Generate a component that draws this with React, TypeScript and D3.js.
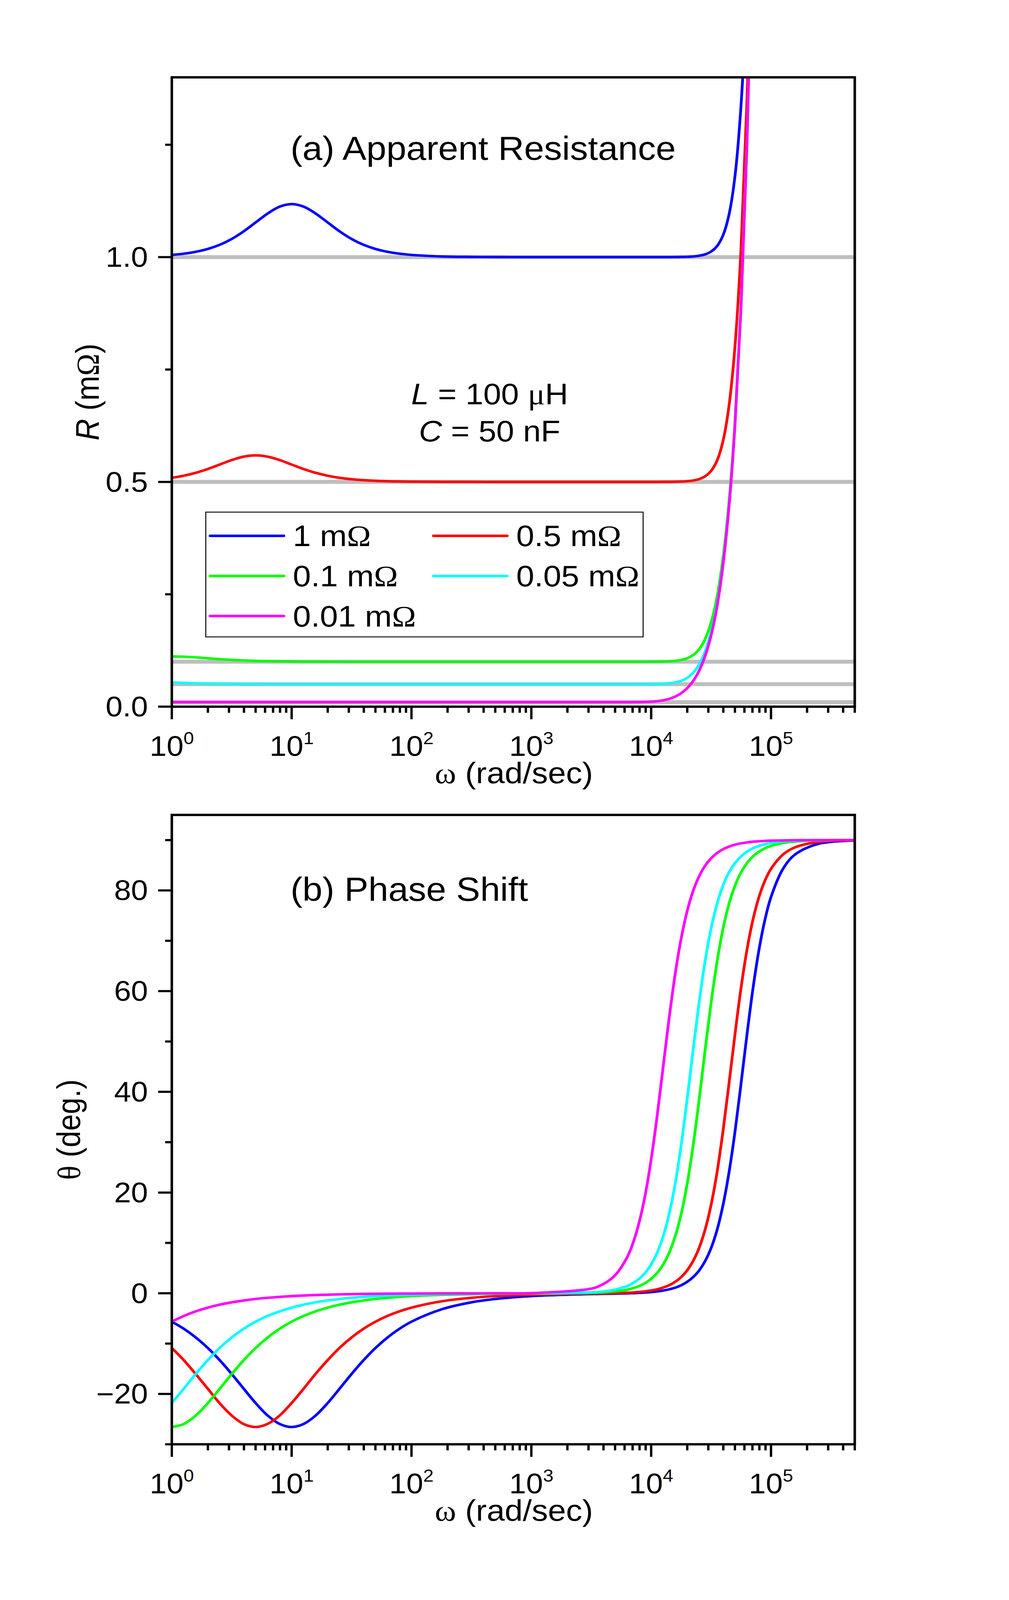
import React, { useEffect } from "react";
import * as d3 from "d3";

// ---------- data ----------
const omega = [1, 1.259, 1.585, 1.995, 2.512, 3.162, 3.981, 5.012, 6.31, 7.943, 10, 12.59, 15.85, 19.95, 25.12, 31.62, 39.81, 50.12, 63.1, 79.43, 100, 177.8, 316.2, 562.3, 1000, 3162, 3981, 5012, 6310, 7079, 7943, 8913, 10000, 11220, 12589, 14125, 15849, 17783, 19953, 22387, 25119, 28184, 31623, 35481, 39811, 44668, 50119, 56234, 63096, 70795, 79433, 89125, 100000, 125893, 158489, 251189, 500000];

// apparent resistance R (mOhm)
const rBlue = [1.0049, 1.0077, 1.0119, 1.0182, 1.0275, 1.0405, 1.0574, 1.0773, 1.0971, 1.1123, 1.118, 1.1123, 1.0971, 1.0773, 1.0574, 1.0405, 1.0275, 1.0182, 1.0119, 1.0077, 1.0049, 1.0016, 1.0005, 1.0002, 1.0, 1.0, 1.0, 1.0, 1.0, 1.0, 1.0, 1.0, 1.0, 1.0, 1.0, 1.0001, 1.0002, 1.0004, 1.0008, 1.0016, 1.0031, 1.0062, 1.0124, 1.0245, 1.0487, 1.095, 1.1814, 1.338, 1.6055, 2.036, 2.698, 3.68, 5.1, 10.03, 19.9, 79.2, 629];
const rRed = [0.5092, 0.5138, 0.5203, 0.5287, 0.5387, 0.5486, 0.5562, 0.559, 0.5561, 0.5486, 0.5385, 0.5287, 0.5202, 0.5138, 0.5091, 0.506, 0.5038, 0.5025, 0.5015, 0.501, 0.5006, 0.5002, 0.5001, 0.5, 0.5, 0.5, 0.5, 0.5, 0.5, 0.5, 0.5, 0.5, 0.5, 0.5, 0.5001, 0.5002, 0.5004, 0.5008, 0.5016, 0.5031, 0.5062, 0.5124, 0.5244, 0.5475, 0.5915, 0.67, 0.8035, 1.02, 1.352, 1.843, 2.555, 3.575, 5.02, 9.99, 19.9, 79.2, 629];
const rGreen = [0.1118, 0.1112, 0.1097, 0.1077, 0.1057, 0.1041, 0.1028, 0.1018, 0.1012, 0.1008, 0.1005, 0.1003, 0.1002, 0.1001, 0.1001, 0.1, 0.1, 0.1, 0.1, 0.1, 0.1, 0.1, 0.1, 0.1, 0.1, 0.1, 0.1, 0.1, 0.1, 0.1, 0.1, 0.1, 0.1001, 0.1002, 0.1005, 0.101, 0.102, 0.1039, 0.1076, 0.1147, 0.1276, 0.1501, 0.187, 0.2444, 0.3315, 0.4571, 0.6369, 0.8946, 1.26, 1.777, 2.508, 3.54, 5.0, 9.98, 19.9, 79.2, 629];
const rCyan = [0.05385, 0.05287, 0.05202, 0.05138, 0.05091, 0.0506, 0.05038, 0.05025, 0.05015, 0.0501, 0.05006, 0.05004, 0.05002, 0.05002, 0.05, 0.05, 0.05, 0.05, 0.05, 0.05, 0.05, 0.05, 0.05, 0.05, 0.05, 0.05, 0.05, 0.05, 0.05002, 0.05003, 0.05006, 0.05013, 0.05025, 0.0505, 0.05099, 0.05195, 0.05381, 0.05736, 0.06384, 0.07515, 0.09366, 0.1227, 0.1657, 0.2285, 0.3199, 0.4488, 0.631, 0.8903, 1.257, 1.775, 2.506, 3.54, 5.0, 9.98, 19.9, 79.2, 629];
const rMagenta = [0.01005, 0.01003, 0.01002, 0.01001, 0.01001, 0.01, 0.01, 0.01, 0.01, 0.01, 0.01, 0.01, 0.01, 0.01, 0.01, 0.01, 0.01, 0.01, 0.01, 0.01, 0.01, 0.01, 0.01, 0.01, 0.01, 0.01, 0.01, 0.01002, 0.01008, 0.01016, 0.01031, 0.01061, 0.01118, 0.01224, 0.01413, 0.01728, 0.02227, 0.02983, 0.04094, 0.05698, 0.07983, 0.1124, 0.1583, 0.2232, 0.3162, 0.4461, 0.6291, 0.889, 1.256, 1.774, 2.506, 3.54, 5.0, 9.98, 19.9, 79.2, 629];

// phase shift theta (deg.)
const thBlue = [-5.65, -7.06, -8.79, -10.86, -13.3, -16.04, -18.96, -21.83, -24.29, -25.96, -26.57, -25.96, -24.29, -21.83, -18.96, -16.04, -13.3, -10.86, -8.79, -7.06, -5.65, -3.21, -1.81, -1.02, -0.57, -0.17, -0.13, -0.08, -0.02, 0.02, 0.07, 0.14, 0.23, 0.35, 0.53, 0.77, 1.1, 1.58, 2.25, 3.19, 4.51, 6.37, 8.96, 12.57, 17.54, 24.04, 32.17, 41.64, 51.47, 60.59, 68.24, 74.23, 78.69, 84.28, 87.12, 89.28, 89.91];
const thRed = [-10.89, -13.3, -16.07, -18.96, -21.86, -24.29, -25.98, -26.57, -25.95, -24.29, -21.8, -18.96, -16.01, -13.3, -10.84, -8.79, -7.05, -5.65, -4.5, -3.59, -2.86, -1.61, -0.91, -0.51, -0.29, -0.07, -0.04, 0.02, 0.1, 0.16, 0.25, 0.37, 0.54, 0.78, 1.12, 1.59, 2.26, 3.2, 4.53, 6.39, 8.99, 12.63, 17.54, 24.04, 32.29, 41.73, 51.52, 60.65, 68.29, 74.26, 78.72, 81.96, 84.29, 87.13, 88.56, 89.64, 89.95];
const thGreen = [-26.57, -25.96, -24.29, -21.83, -18.96, -16.04, -13.3, -10.86, -8.79, -7.06, -5.65, -4.51, -3.59, -2.86, -2.27, -1.81, -1.44, -1.14, -0.91, -0.72, -0.57, -0.32, -0.18, -0.1, -0.05, 0.07, 0.17, 0.35, 0.71, 1.01, 1.43, 2.02, 2.86, 4.03, 5.69, 8.02, 11.25, 15.7, 21.65, 29.29, 38.38, 48.24, 57.67, 65.85, 72.44, 77.36, 80.97, 83.58, 85.45, 86.77, 87.71, 88.38, 88.85, 89.43, 89.71, 89.93, 89.99];
const thCyan = [-21.8, -18.96, -16.01, -13.3, -10.84, -8.79, -7.05, -5.64, -4.5, -3.59, -2.86, -2.27, -1.8, -1.44, -1.14, -0.91, -0.72, -0.57, -0.45, -0.36, -0.29, -0.16, -0.09, -0.05, -0.02, 0.17, 0.35, 0.72, 1.43, 2.03, 2.87, 4.05, 5.71, 8.04, 11.29, 15.74, 21.7, 29.34, 38.45, 48.3, 57.73, 65.94, 72.44, 77.36, 81.01, 83.6, 85.45, 86.78, 87.72, 88.39, 88.86, 89.19, 89.43, 89.71, 89.86, 89.96, 90.0];
const thMagenta = [-5.65, -4.51, -3.59, -2.86, -2.27, -1.81, -1.44, -1.14, -0.91, -0.72, -0.57, -0.45, -0.36, -0.29, -0.23, -0.18, -0.14, -0.11, -0.09, -0.07, -0.06, -0.03, -0.02, -0.01, 0.02, 0.91, 1.81, 3.6, 7.16, 10.06, 14.09, 19.49, 26.57, 35.22, 44.94, 54.63, 63.32, 70.41, 75.86, 79.89, 82.8, 84.9, 86.38, 87.43, 88.19, 88.72, 89.09, 89.36, 89.54, 89.68, 89.77, 89.84, 89.89, 89.94, 89.97, 89.99, 90.0];

const seriesLabels = ["1 m", "0.5 m", "0.1 m", "0.05 m", "0.01 m"];
const seriesColors = ["#0000FF", "#FF0000", "#00FF00", "#00FFFF", "#FF00FF"];
const nominalR = [1, 0.5, 0.1, 0.05, 0.01];
const rSeries = [rBlue, rRed, rGreen, rCyan, rMagenta];
const thSeries = [thBlue, thRed, thGreen, thCyan, thMagenta];

const yTicksA = [0, 0.5, 1.0];
const yMinorA = [0.25, 0.75, 1.25];
const yTicksB = [-20, 0, 20, 40, 60, 80];
const yMinorB = [-30, -10, 10, 30, 50, 70, 90];

// ---------- layout (reference pixel coordinates) ----------
const W = 2584;
const H = 4449;
const L = 440;
const R = 2189;
const TOP_A = 215;
const BOT_A = 1965;
const TOP_B = 2266;
const BOT_B = 4016;
const SANS = "'Liberation Sans', Arial, Helvetica, sans-serif";
const SERIF = "'Liberation Serif', 'Times New Roman', serif";
const MAJ = 35;
const MIN = 17;
const CURVE_W = 7;

export default function App() {
  useEffect(() => {
    document.body.style.margin = "0";
    document.body.style.overflow = "hidden";
    document.documentElement.style.overflow = "hidden";
  }, []);

  const x = d3.scaleLog().domain([1, 5e5]).range([L, R]);
  const yA = d3.scaleLinear().domain([0, 1.4]).range([BOT_A, TOP_A]);
  const yB = d3.scaleLinear().domain([-30, 95]).range([BOT_B, TOP_B]);
  const xTicks = x.ticks();
  const isMajor = (v: number) => Math.abs(Math.log10(v) - Math.round(Math.log10(v))) < 1e-6;
  const fmtA = d3.format(".1f");
  const fmtB = d3.format("d");
  const curve = d3.curveCatmullRom.alpha(0.5);

  const lineA = (vals: number[]) =>
    d3.line<number>().x((_, i) => x(omega[i])).y((d) => yA(d)).curve(curve)(vals) || "";
  const lineB = (vals: number[]) =>
    d3.line<number>().x((_, i) => x(omega[i])).y((d) => yB(d)).curve(curve)(vals) || "";

  const xAxis = (bot: number, key: string) => (
    <g key={key}>
      {xTicks.map((v, i) => (
        <line key={i} x1={x(v)} x2={x(v)} y1={bot} y2={bot + (isMajor(v) ? MAJ : MIN)} stroke="#000" strokeWidth={6} />
      ))}
      {xTicks.filter(isMajor).map((v, i) => (
        <text key={"l" + i} x={x(v)} y={bot + 137} textAnchor="middle" fontSize={78} fontFamily={SANS}>
          10
          <tspan fontSize={48} dy={-33}>{Math.round(Math.log10(v))}</tspan>
        </text>
      ))}
      <text x={1316} y={bot + 213} textAnchor="middle" fontSize={83} fontFamily={SANS}>
        <tspan fontFamily={SERIF}>ω</tspan>
        {" (rad/sec)"}
      </text>
    </g>
  );

  return (
    <svg
      viewBox={`0 0 ${W} ${H}`}
      preserveAspectRatio="none"
      style={{ position: "absolute", left: 0, top: 0, width: "100vw", height: "100vh", background: "#fff", display: "block" }}
    >
      <rect x={0} y={0} width={W} height={H} fill="#fff" />
      <defs>
        <clipPath id="clipA">
          <rect x={L} y={TOP_A} width={R - L} height={BOT_A - TOP_A} />
        </clipPath>
        <clipPath id="clipB">
          <rect x={L} y={TOP_B} width={R - L} height={BOT_B - TOP_B} />
        </clipPath>
      </defs>

      {/* ---------- panel (a) ---------- */}
      <g clipPath="url(#clipA)">
        {nominalR.map((v, i) => (
          <line key={i} x1={L} x2={R} y1={yA(v)} y2={yA(v)} stroke="#BEBEBE" strokeWidth={11} />
        ))}
        {rSeries.map((s, i) => (
          <path key={i} d={lineA(s)} fill="none" stroke={seriesColors[i]} strokeWidth={CURVE_W} strokeLinejoin="round" />
        ))}
      </g>
      <rect x={L} y={TOP_A} width={R - L} height={BOT_A - TOP_A} fill="none" stroke="#000" strokeWidth={6.5} />
      {yTicksA.map((v, i) => (
        <g key={i}>
          <line x1={L - MAJ} x2={L} y1={yA(v)} y2={yA(v)} stroke="#000" strokeWidth={6} />
          <text x={379} y={yA(v)} dy={27} textAnchor="end" fontSize={78} fontFamily={SANS}>{fmtA(v)}</text>
        </g>
      ))}
      {yMinorA.map((v, i) => (
        <line key={i} x1={L - MIN} x2={L} y1={yA(v)} y2={yA(v)} stroke="#000" strokeWidth={6} />
      ))}
      {xAxis(BOT_A, "xa")}
      <text transform={`translate(253,${(TOP_A + BOT_A) / 2}) rotate(-90)`} textAnchor="middle" fontSize={83} fontFamily={SANS}>
        <tspan fontStyle="italic">R</tspan>
        {" (m"}
        <tspan fontFamily={SERIF}>Ω</tspan>
        {")"}
      </text>
      <text x={744} y={444} fontSize={92} fontFamily={SANS}>(a) Apparent Resistance</text>
      <text x={1254} y={1124} textAnchor="middle" fontSize={82} fontFamily={SANS}>
        <tspan fontStyle="italic">L</tspan>
        {" = 100 "}
        <tspan fontFamily={SERIF}>μ</tspan>
        {"H"}
      </text>
      <text x={1254} y={1227} textAnchor="middle" fontSize={82} fontFamily={SANS}>
        <tspan fontStyle="italic">C</tspan>
        {" = 50 nF"}
      </text>

      {/* legend */}
      <rect x={527} y={1424} width={1120} height={347} fill="#fff" stroke="#000" strokeWidth={2.5} />
      {seriesLabels.map((lab, i) => {
        const col = i % 2;
        const row = Math.floor(i / 2);
        const ly = 1490 + row * 111.5;
        const lx0 = col === 0 ? 538 : 1110;
        const tx = col === 0 ? 750 : 1322;
        return (
          <g key={i}>
            <line x1={lx0} x2={lx0 + 189} y1={ly} y2={ly} stroke={seriesColors[i]} strokeWidth={7} strokeLinecap="round" />
            <text x={tx} y={ly + 29} fontSize={83} fontFamily={SANS}>
              {lab}
              <tspan fontFamily={SERIF}>Ω</tspan>
            </text>
          </g>
        );
      })}

      {/* ---------- panel (b) ---------- */}
      <g clipPath="url(#clipB)">
        {thSeries.map((s, i) => (
          <path key={i} d={lineB(s)} fill="none" stroke={seriesColors[i]} strokeWidth={CURVE_W} strokeLinejoin="round" />
        ))}
      </g>
      <rect x={L} y={TOP_B} width={R - L} height={BOT_B - TOP_B} fill="none" stroke="#000" strokeWidth={6.5} />
      {yTicksB.map((v, i) => (
        <g key={i}>
          <line x1={L - MAJ} x2={L} y1={yB(v)} y2={yB(v)} stroke="#000" strokeWidth={6} />
          <text x={379} y={yB(v)} dy={27} textAnchor="end" fontSize={78} fontFamily={SANS}>{fmtB(v)}</text>
        </g>
      ))}
      {yMinorB.map((v, i) => (
        <line key={i} x1={L - MIN} x2={L} y1={yB(v)} y2={yB(v)} stroke="#000" strokeWidth={6} />
      ))}
      {xAxis(BOT_B, "xb")}
      <text transform={`translate(205,${(TOP_B + BOT_B) / 2}) rotate(-90)`} textAnchor="middle" fontSize={83} fontFamily={SANS}>
        <tspan fontFamily={SERIF}>θ</tspan>
        {" (deg.)"}
      </text>
      <text x={744} y={2505} fontSize={92} fontFamily={SANS}>(b) Phase Shift</text>
    </svg>
  );
}
